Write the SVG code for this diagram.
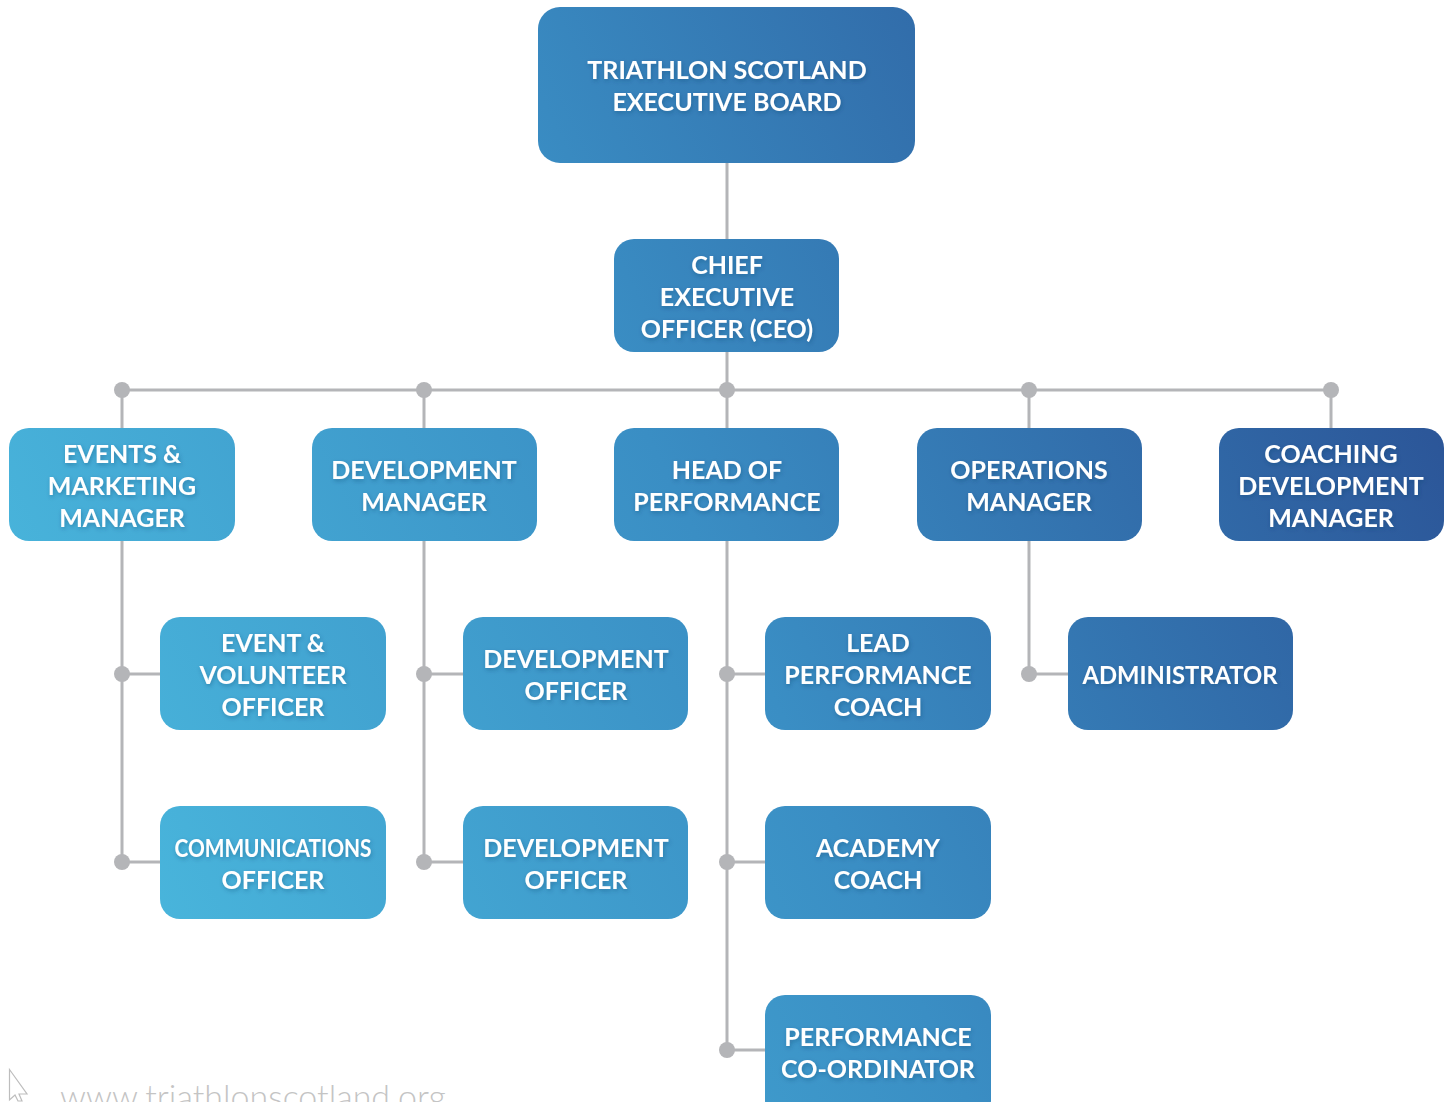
<svg xmlns="http://www.w3.org/2000/svg" width="1453" height="1102" viewBox="0 0 1453 1102">
<defs>
<linearGradient id="g" gradientUnits="userSpaceOnUse" x1="0" y1="950" x2="1453" y2="250">
<stop offset="0" stop-color="#4cbee1"/>
<stop offset="0.5" stop-color="#3a8ec4"/>
<stop offset="1" stop-color="#2a4f93"/>
</linearGradient>
<filter id="ts" x="-10%" y="-30%" width="120%" height="160%">
<feGaussianBlur in="SourceAlpha" stdDeviation="2"/>
<feOffset dx="1" dy="2" result="b"/>
<feFlood flood-color="#1a3c66" flood-opacity="0.35"/>
<feComposite in2="b" operator="in"/>
<feMerge><feMergeNode/><feMergeNode in="SourceGraphic"/></feMerge>
</filter>
</defs>
<style>
.box{fill:url(#g);}
.t{font-family:Lato,"Liberation Sans",sans-serif;font-weight:700;font-size:25px;fill:#ffffff;text-anchor:middle;}
.c{stroke:#b4b5b8;stroke-width:3;fill:none;}
.d{fill:#b4b5b8;}
.url{font-family:Lato,"Liberation Sans",sans-serif;font-weight:300;font-size:34px;fill:#c4c4c4;}
</style>
<rect width="1453" height="1102" fill="#ffffff"/>
<g id="connectors">
<path class="c" d="M727 163V239M727 352V390M122 390H1331M122 390V428M424 390V428M1029 390V428M1331 390V428M727 390V428"/>
<path class="c" d="M122 541V862M122 674H160M122 862H160"/>
<path class="c" d="M424 541V862M424 674H463M424 862H463"/>
<path class="c" d="M727 541V1050M727 674H765M727 862H765M727 1050H765"/>
<path class="c" d="M1029 541V674M1029 674H1068"/>
<circle class="d" cx="122" cy="390" r="8"/><circle class="d" cx="424" cy="390" r="8"/><circle class="d" cx="727" cy="390" r="8"/><circle class="d" cx="1029" cy="390" r="8"/><circle class="d" cx="1331" cy="390" r="8"/>
<circle class="d" cx="122" cy="674" r="8"/><circle class="d" cx="122" cy="862" r="8"/>
<circle class="d" cx="424" cy="674" r="8"/><circle class="d" cx="424" cy="862" r="8"/>
<circle class="d" cx="727" cy="674" r="8"/><circle class="d" cx="727" cy="862" r="8"/><circle class="d" cx="727" cy="1050" r="8"/>
<circle class="d" cx="1029" cy="674" r="8"/>
</g>
<g id="board"><rect class="box" x="538" y="7" width="377" height="156" rx="22"/>
<g filter="url(#ts)"><text class="t" x="727" y="79">TRIATHLON SCOTLAND</text><text class="t" x="727" y="111">EXECUTIVE BOARD</text></g></g>
<g id="ceo"><rect class="box" x="614" y="239" width="225" height="113" rx="20"/>
<g filter="url(#ts)"><text class="t" x="727" y="274">CHIEF</text><text class="t" x="727" y="306">EXECUTIVE</text><text class="t" x="727" y="338">OFFICER (CEO)</text></g></g>
<g id="events-marketing"><rect class="box" x="9" y="428" width="226" height="113" rx="20"/>
<g filter="url(#ts)"><text class="t" x="122" y="463">EVENTS &amp;</text><text class="t" x="122" y="495">MARKETING</text><text class="t" x="122" y="527">MANAGER</text></g></g>
<g id="dev-manager"><rect class="box" x="312" y="428" width="225" height="113" rx="20"/>
<g filter="url(#ts)"><text class="t" x="424" y="479">DEVELOPMENT</text><text class="t" x="424" y="511">MANAGER</text></g></g>
<g id="head-performance"><rect class="box" x="614" y="428" width="225" height="113" rx="20"/>
<g filter="url(#ts)"><text class="t" x="727" y="479">HEAD OF</text><text class="t" x="727" y="511">PERFORMANCE</text></g></g>
<g id="ops-manager"><rect class="box" x="917" y="428" width="225" height="113" rx="20"/>
<g filter="url(#ts)"><text class="t" x="1029" y="479">OPERATIONS</text><text class="t" x="1029" y="511">MANAGER</text></g></g>
<g id="coaching-dev"><rect class="box" x="1219" y="428" width="225" height="113" rx="20"/>
<g filter="url(#ts)"><text class="t" x="1331" y="463">COACHING</text><text class="t" x="1331" y="495">DEVELOPMENT</text><text class="t" x="1331" y="527">MANAGER</text></g></g>
<g id="event-volunteer"><rect class="box" x="160" y="617" width="226" height="113" rx="20"/>
<g filter="url(#ts)"><text class="t" x="273" y="652">EVENT &amp;</text><text class="t" x="273" y="684">VOLUNTEER</text><text class="t" x="273" y="716">OFFICER</text></g></g>
<g id="dev-officer-1"><rect class="box" x="463" y="617" width="225" height="113" rx="20"/>
<g filter="url(#ts)"><text class="t" x="576" y="668">DEVELOPMENT</text><text class="t" x="576" y="700">OFFICER</text></g></g>
<g id="lead-perf-coach"><rect class="box" x="765" y="617" width="226" height="113" rx="20"/>
<g filter="url(#ts)"><text class="t" x="878" y="652">LEAD</text><text class="t" x="878" y="684">PERFORMANCE</text><text class="t" x="878" y="716">COACH</text></g></g>
<g id="administrator"><rect class="box" x="1068" y="617" width="225" height="113" rx="20"/>
<g filter="url(#ts)"><text class="t" x="1180" y="684" textLength="195" lengthAdjust="spacingAndGlyphs">ADMINISTRATOR</text></g></g>
<g id="comms-officer"><rect class="box" x="160" y="806" width="226" height="113" rx="20"/>
<g filter="url(#ts)"><text class="t" x="273" y="857" textLength="197" lengthAdjust="spacingAndGlyphs">COMMUNICATIONS</text><text class="t" x="273" y="889">OFFICER</text></g></g>
<g id="dev-officer-2"><rect class="box" x="463" y="806" width="225" height="113" rx="20"/>
<g filter="url(#ts)"><text class="t" x="576" y="857">DEVELOPMENT</text><text class="t" x="576" y="889">OFFICER</text></g></g>
<g id="academy-coach"><rect class="box" x="765" y="806" width="226" height="113" rx="20"/>
<g filter="url(#ts)"><text class="t" x="878" y="857">ACADEMY</text><text class="t" x="878" y="889">COACH</text></g></g>
<g id="perf-coordinator"><rect class="box" x="765" y="995" width="226" height="125" rx="20"/>
<g filter="url(#ts)"><text class="t" x="878" y="1046">PERFORMANCE</text><text class="t" x="878" y="1078">CO-ORDINATOR</text></g></g>
<path d="M9.5 1069.5V1100L15 1095L18 1101H22L19 1094H27Z" fill="#ffffff" stroke="#bdbdbd" stroke-width="1.2"/>
<text class="url" x="60" y="1109">www.triathlonscotland.org</text>
</svg>
